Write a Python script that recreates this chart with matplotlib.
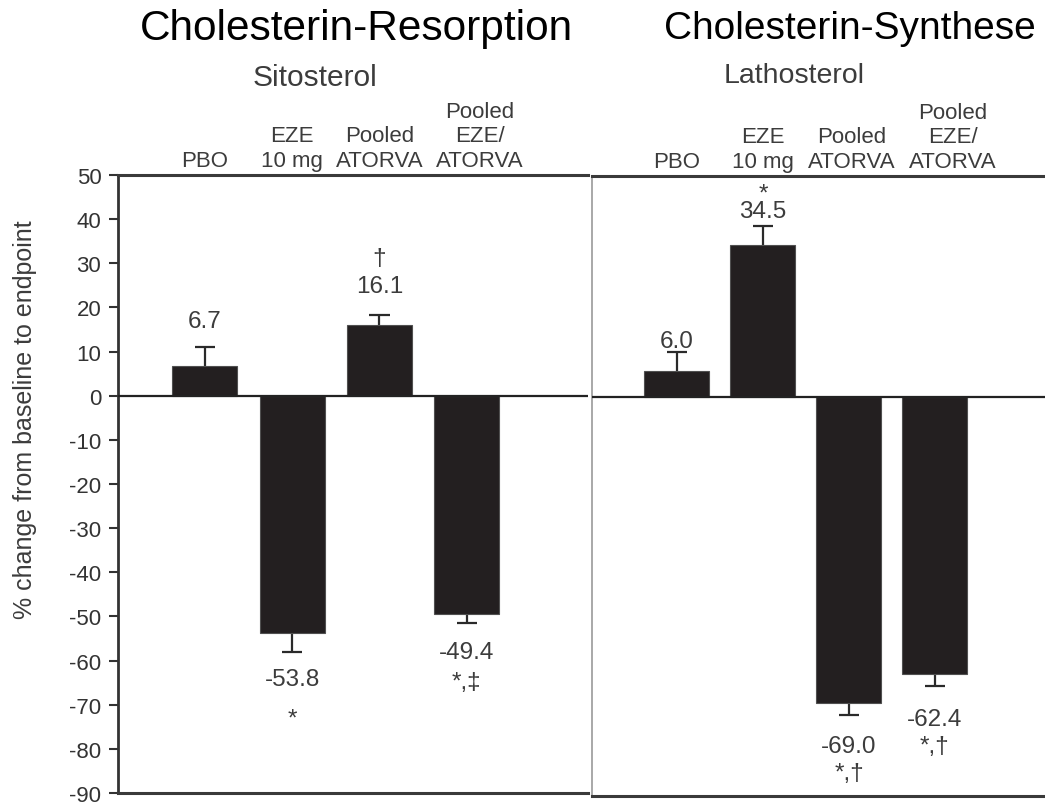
import matplotlib
matplotlib.use("Agg")
import matplotlib.pyplot as plt
import numpy as np

plt.rcParams['font.family'] = ['Liberation Sans', 'DejaVu Sans']

# ---------------- data ----------------
groups = ["PBO", "EZE\n10 mg", "Pooled\nATORVA", "Pooled\nEZE/\nATORVA"]

sito_mean = [6.7, -53.8, 16.1, -49.4]
sito_se = [4.4, 4.3, 2.2, 2.1]
sito_sig = ["", "*", "\u2020", "*,\u2021"]

latho_mean = [6.0, 34.5, -69.0, -62.4]
latho_se = [4.2, 4.1, 2.7, 2.8]
latho_sig = ["", "*", "*,\u2020", "*,\u2020"]

yticks = list(range(-90, 51, 10))
ylim = (-90, 50)

# ---------------- layout ----------------
W, H = 1045, 804
DPI = 100
fig = plt.figure(figsize=(W / DPI, H / DPI), dpi=DPI)


def fx(px):
    return px / W


def fy(py):
    return 1 - py / H


ax1 = fig.add_axes([fx(118), fy(794), fx(588 - 118), (794 - 176) / H])
ax2 = fig.add_axes([fx(592), fy(797), fx(1045 - 592), (797 - 177) / H])

BAR = "#231f20"
TXT = "#3c3c3c"
PX = 72.0 / DPI  # points per pixel


def panel(ax, means, ses, sigs, xlim, width, val_off, sig_off, lab_dx):
    x = np.arange(len(means))
    ax.set_xlim(*xlim)
    ax.set_ylim(*ylim)
    means = np.asarray(means)
    ses = np.asarray(ses)
    sign = np.where(means >= 0, 1, -1)
    tips = means + sign * ses
    # error bars (one-sided)
    ax.vlines(x, means, tips, color="#2a2a2a", lw=1.6, zorder=2)
    ax.hlines(tips, x - 0.115, x + 0.115, color="#2a2a2a", lw=1.6, zorder=2)
    ax.bar(x, means, width=width, color=BAR, edgecolor="#505050",
           linewidth=0.8, zorder=3)
    ax.axhline(0, color="#222222", lw=1.6, zorder=4)
    for i in range(len(means)):
        s = sign[i]
        ax.annotate(f"{means[i]:.1f}", xy=(x[i], tips[i]),
                    xytext=(0, s * val_off[i] * PX - 2 * PX),
                    textcoords="offset points", ha="center", va="center",
                    fontsize=17.5, color=TXT)
        if sigs[i]:
            extra = -8 if sigs[i] == "*" else -2
            ax.annotate(sigs[i], xy=(x[i], tips[i]),
                        xytext=(0, (s * sig_off[i] + extra) * PX),
                        textcoords="offset points", ha="center", va="center",
                        fontsize=17.5, color=TXT)
    for i, lab in enumerate(groups):
        ax.annotate(lab, xy=(x[i], 1), xycoords=("data", "axes fraction"),
                    xytext=(lab_dx[i] * PX, 3), textcoords="offset points",
                    ha="center", va="bottom", fontsize=16, color=TXT,
                    linespacing=1.22)
    ax.set_xticks([])
    for sp in ("top", "bottom"):
        ax.spines[sp].set_linewidth(2.2)
        ax.spines[sp].set_color("#3a3a3a")
    ax.spines["right"].set_visible(False)


panel(ax1, sito_mean, sito_se, sito_sig, (-0.997, 4.39), 0.745,
      val_off=[27.7, 25, 31, 27], sig_off=[0, 58, 59, 57],
      lab_dx=[0, 0, 0, 13])
panel(ax2, latho_mean, latho_se, latho_sig, (-0.988, 4.28), 0.756,
      val_off=[13, 17, 29, 31], sig_off=[0, 41, 56, 58],
      lab_dx=[0, 0, 3, 18])

ax1.spines["left"].set_linewidth(2.0)
ax1.spines["left"].set_color("#333333")
ax1.set_yticks(yticks)
ax1.set_yticklabels([str(t) for t in yticks])
ax1.tick_params(axis="y", direction="out", length=6.5, width=1.5,
                labelsize=16, colors="#333333", pad=5.5)

ax2.spines["left"].set_linewidth(1.2)
ax2.spines["left"].set_color("#9a9a9a")
ax2.set_yticks([])

# sub titles
fig.text(fx(315), fy(78), "Sitosterol", ha="center", va="center",
         fontsize=21.5, color=TXT)
fig.text(fx(794), fy(76), "Lathosterol", ha="center", va="center",
         fontsize=20.5, color=TXT)

# main titles
fig.text(fx(356), fy(29), "Cholesterin-Resorption", ha="center", va="center",
         fontsize=30.5, color="black")
fig.text(fx(850), fy(29), "Cholesterin-Synthese", ha="center", va="center",
         fontsize=28, color="black")

# y label
fig.text(fx(25), fy(420), "% change from baseline to endpoint", rotation=90,
         ha="center", va="center", fontsize=18, color=TXT)

fig.savefig("out.png", dpi=DPI)
